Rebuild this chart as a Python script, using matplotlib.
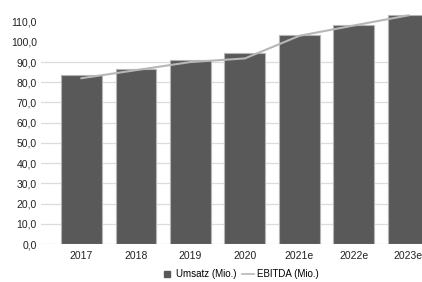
import matplotlib.pyplot as plt
from matplotlib.lines import Line2D
import numpy as np

# data
years = ['2017', '2018', '2019', '2020', '2021e', '2022e', '2023e']
umsatz = [83.6, 86.7, 91.0, 94.3, 103.4, 108.5, 113.1]
ebitda = [82.0, 86.0, 90.0, 91.8, 103.0, 108.1, 113.1]
yticks = [0, 10, 20, 30, 40, 50, 60, 70, 80, 90, 100, 110]

plt.rcParams['font.family'] = ['Liberation Sans', 'DejaVu Sans']

fig = plt.figure(figsize=(4.22, 2.82), dpi=100)
ax = fig.add_axes([41 / 422, 1 - 244 / 282, 1 - 41 / 422, 244 / 282])

x = np.arange(len(years))
ax.bar(x, umsatz, width=0.75, color='#595959', edgecolor='#b5b5b5',
       linewidth=0.8, zorder=2)
ax.plot(x, ebitda, color='#b7b7b7', linewidth=1.5, zorder=3)

ax.set_xlim(-0.743, 6.25)
ax.set_ylim(0, 120.7)
ax.set_xticks(x)
ax.set_xticklabels(years)
ax.set_yticks(yticks)
ax.set_yticklabels([('%.1f' % v).replace('.', ',') for v in yticks])
ax.tick_params(length=0, labelsize=7.5, colors='#222222')
ax.tick_params(axis='y', pad=3)
ax.tick_params(axis='x', pad=5)

# gridlines only up to 90 like the original
ax.yaxis.grid(True, color='#dcdcdc', linewidth=0.9, zorder=0)
for i, gl in enumerate(ax.yaxis.get_gridlines()):
    if yticks[i] > 90:
        gl.set_visible(False)
ax.set_axisbelow(True)
for s in ax.spines.values():
    s.set_visible(False)

handles = [Line2D([], [], marker='s', linestyle='none', color='#595959', markersize=4.5),
           Line2D([], [], color='#b7b7b7', linewidth=1.2)]
fig.legend(handles, ['Umsatz (Mio.)', 'EBITDA (Mio.)'], loc='center',
           bbox_to_anchor=(240 / 422, 1 - 274 / 282), ncol=2, frameon=False,
           fontsize=7, handlelength=1.2, handletextpad=0.3, columnspacing=0.6)

fig.savefig('out.png', dpi=100)
